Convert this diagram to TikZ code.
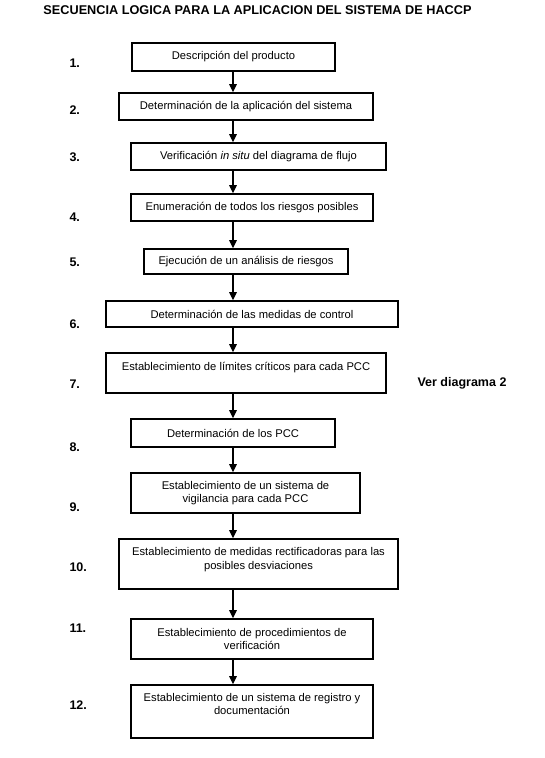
\documentclass[tikz,border=0pt]{standalone}
\usepackage{fontspec}
\setmainfont{Liberation Sans}
\usetikzlibrary{arrows.meta}

\tikzset{
  pasobox/.style={draw, line width=1.6pt, align=center, inner sep=2pt,
    font=\fontsize{11.2}{13.5}\selectfont},
  numero/.style={anchor=west, font=\bfseries\fontsize{12.5}{14}\selectfont},
  flecha/.style={-{Triangle[width=7.5pt,length=8pt]}, line width=1.1pt}
}

\begin{document}
\begin{tikzpicture}[x=1pt,y=-1pt]
       \useasboundingbox (0,0) rectangle (545,758);
       \node[font=\bfseries\fontsize{12.7}{14}\selectfont] (titulo) at (257.5,10)
         {SECUENCIA LOGICA PARA LA APLICACION DEL SISTEMA DE HACCP};
       \coordinate (eje) at (233,0);
       % cajas
       \node[pasobox, minimum width=203pt, minimum height=28pt] (b1)  at (233.5,57)  {Descripción del producto};
       \node[pasobox, minimum width=254pt, minimum height=27pt] (b2)  at (246,106.5)  {Determinación de la aplicación del sistema};
       \node[pasobox, minimum width=255pt, minimum height=27pt] (b3)  at (258.5,156.5) {Verificación \textit{in situ} del diagrama de flujo};
       \node[pasobox, minimum width=242pt, minimum height=27pt] (b4)  at (252,207.5)  {Enumeración de todos los riesgos posibles};
       \node[pasobox, minimum width=204pt, minimum height=25pt] (b5)  at (246,261.5)  {Ejecución de un análisis de riesgos};
       \node[pasobox, minimum width=292pt, minimum height=26pt] (b6)  at (252,314)    {Determinación de las medidas de control};
       \node[pasobox, minimum width=280pt, minimum height=40pt, text depth=13.5pt] (b7) at (246,373) {Establecimiento de límites críticos para cada PCC};
       \node[pasobox, minimum width=204pt, minimum height=28pt] (b8)  at (233,433)    {Determinación de los PCC};
       \node[pasobox, minimum width=229pt, minimum height=40pt] (b9)  at (245.5,493)  {Establecimiento de un sistema de\\vigilancia para cada PCC};
       \node[pasobox, minimum width=279pt, minimum height=50pt, text depth=11.5pt] (b10) at (258.5,564) {Establecimiento de medidas rectificadoras para las\\posibles desviaciones};
       \node[pasobox, minimum width=242pt, minimum height=40pt] (b11) at (252,639)    {Establecimiento de procedimientos de\\verificación};
       \node[pasobox, minimum width=242pt, minimum height=53pt, text depth=15.5pt] (b12) at (252,711.5) {Establecimiento de un sistema de registro y\\documentación};
       % numeros
       \node[numero] (n1)  at (66,63.5)  {1.};
       \node[numero] (n2)  at (66,110)   {2.};
       \node[numero] (n3)  at (66,157)   {3.};
       \node[numero] (n4)  at (66,217.5) {4.};
       \node[numero] (n5)  at (66,262.5) {5.};
       \node[numero] (n6)  at (66,324)   {6.};
       \node[numero] (n7)  at (66,384)   {7.};
       \node[numero] (n8)  at (66,447)   {8.};
       \node[numero] (n9)  at (66,507)   {9.};
       \node[numero] (n10) at (66,567)   {10.};
       \node[numero] (n11) at (66,628)   {11.};
       \node[numero] (n12) at (66,705)   {12.};
       \node[numero] (ver) at (414,383)  {Ver diagrama 2};
       % flechas
       \draw[flecha] (b1.south -| eje)  -- (b2.north -| eje);
       \draw[flecha] (b2.south -| eje)  -- (b3.north -| eje);
       \draw[flecha] (b3.south -| eje)  -- (b4.north -| eje);
       \draw[flecha] (b4.south -| eje)  -- (b5.north -| eje);
       \draw[flecha] (b5.south -| eje)  -- (b6.north -| eje);
       \draw[flecha] (b6.south -| eje)  -- (b7.north -| eje);
       \draw[flecha] (b7.south -| eje)  -- (b8.north -| eje);
       \draw[flecha] (b8.south -| eje)  -- (b9.north -| eje);
       \draw[flecha] (b9.south -| eje)  -- (b10.north -| eje);
       \draw[flecha] (b10.south -| eje) -- (b11.north -| eje);
       \draw[flecha] (b11.south -| eje) -- (b12.north -| eje);
      \end{tikzpicture}
\end{document}
